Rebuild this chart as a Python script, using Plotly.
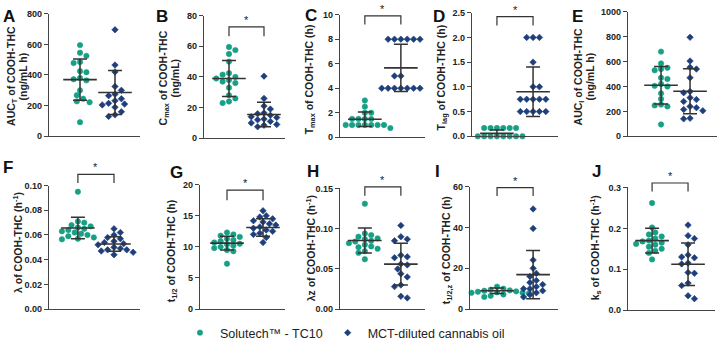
import numpy as np
import plotly.graph_objects as go

# ---------------- data ----------------
groups = ["Solutech™ - TC10", "MCT-diluted cannabis oil"]

A_green = [595, 545, 525, 485, 478, 425, 418, 380, 372, 365, 300, 268, 245, 228, 222, 92]
A_blue = [695, 465, 420, 325, 300, 275, 265, 245, 232, 215, 210, 205, 190, 160, 140, 130]
A_mean = [370, 286]
A_sd = [135, 143]

B_green = [59.5, 57.5, 55, 50, 42.5, 41.5, 40, 39, 38, 37, 36, 33, 28, 26, 24, 23]
B_blue = [40.5, 26, 21, 19, 16.5, 16, 15, 14, 13.5, 12.5, 12, 11, 10, 9, 8.5, 7.5]
B_mean = [39, 15.5]
B_sd = [11.8, 8]

C_green = [3, 2.5, 2, 2, 1.5, 1.5, 1.5, 1.5, 1, 1, 1, 1, 1, 1, 1, 0.75]
C_blue = [8, 8, 8, 8, 8, 8, 5, 5, 4, 4, 4, 4, 4, 4, 4, 4]
C_mean = [1.47, 5.66]
C_sd = [0.6, 1.92]

D_green = [0.167, 0.167, 0.167, 0.167, 0.167, 0.167, 0, 0, 0, 0, 0, 0, 0, 0, 0, 0]
D_blue = [2, 2, 2, 1.5, 1, 1, 0.75, 0.75, 0.75, 0.75, 0.75, 0.5, 0.5, 0.5, 0.5, 0.5]
D_mean = [0.06, 0.9]
D_sd = [0.07, 0.5]

E_green = [680, 585, 550, 540, 530, 470, 460, 420, 405, 400, 345, 300, 255, 248, 240, 95]
E_blue = [795, 605, 555, 540, 470, 360, 350, 310, 295, 280, 240, 230, 215, 205, 145, 140]
E_mean = [410, 362]
E_sd = [150, 180]

F_green = [0.095, 0.071, 0.07, 0.068, 0.067, 0.066, 0.065, 0.064, 0.063, 0.062, 0.061, 0.06, 0.059, 0.058, 0.057, 0.0565]
F_blue = [0.065, 0.062, 0.060, 0.058, 0.057, 0.055, 0.054, 0.053, 0.052, 0.050, 0.049, 0.048, 0.048, 0.047, 0.046, 0.044]
F_mean = [0.0657, 0.0527]
F_sd = [0.0087, 0.0058]

G_green = [12.3, 12.0, 11.8, 11.6, 11.3, 11.1, 10.9, 10.7, 10.5, 10.4, 10.2, 10.0, 9.8, 9.5, 9.3, 7.3]
G_blue = [15.8, 15.0, 14.8, 14.5, 14.2, 14.0, 13.7, 13.5, 13.2, 13.0, 12.7, 12.5, 12.2, 12.0, 11.5, 10.7]
G_mean = [10.6, 13.1]
G_sd = [1.1, 1.4]

H_green = [0.131, 0.094, 0.092, 0.09, 0.088, 0.087, 0.085, 0.084, 0.082, 0.08, 0.078, 0.077, 0.075, 0.072, 0.07, 0.062]
H_blue = [0.104, 0.090, 0.087, 0.085, 0.067, 0.065, 0.064, 0.056, 0.055, 0.050, 0.044, 0.040, 0.030, 0.028, 0.016, 0.014]
H_mean = [0.0854, 0.0559]
H_sd = [0.0155, 0.026]

I_green = [11, 10, 9.5, 9.2, 9, 8.7, 8.5, 8.2, 8, 8, 7.8, 7.5, 7.2, 7, 6.5, 6]
I_blue = [49, 39.5, 24, 20, 17.5, 16, 14, 13, 12, 11, 10, 10, 9, 8, 7, 6]
I_mean = [9.0, 16.9]
I_sd = [1.4, 11.8]

J_green = [0.262, 0.202, 0.19, 0.185, 0.18, 0.175, 0.17, 0.168, 0.165, 0.162, 0.16, 0.155, 0.15, 0.145, 0.14, 0.124]
J_blue = [0.208, 0.182, 0.175, 0.16, 0.135, 0.13, 0.128, 0.115, 0.113, 0.092, 0.09, 0.066, 0.06, 0.035, 0.028]
J_mean = [0.170, 0.112]
J_sd = [0.03, 0.052]

# significance brackets: (bar level, tip level)
brackets = {
    "B": (72.6, 66.5), "C": (9.9, 9.2), "D": (2.42, 2.24),
    "F": (0.109, 0.102), "G": (19.1, 17.5), "H": (0.152, 0.141),
    "I": (59.5, 55.3), "J": (0.311, 0.290),
}

titles = {
    "A": ["AUC<sub>T</sub> of COOH-THC", "(ng/mL h)"],
    "B": ["C<sub>max</sub> of COOH-THC", "(ng/mL)"],
    "C": ["T<sub>max</sub> of COOH-THC (h)"],
    "D": ["T<sub>lag</sub> of COOH-THC (h)"],
    "E": ["AUC<sub>I</sub> of COOH-THC", "(ng/mL h)"],
    "F": ["λ of COOH-THC (h<sup>-1</sup>)"],
    "G": ["t<sub>1/2</sub> of COOH-THC (h)"],
    "H": ["λz of COOH-THC (h<sup>-1</sup>)"],
    "I": ["t<sub>1/2,z</sub> of COOH-THC (h)"],
    "J": ["k<sub>s</sub> of COOH-THC (h<sup>-1</sup>)"],
}

data = {
    "A": (A_green, A_blue, A_mean, A_sd), "B": (B_green, B_blue, B_mean, B_sd),
    "C": (C_green, C_blue, C_mean, C_sd), "D": (D_green, D_blue, D_mean, D_sd),
    "E": (E_green, E_blue, E_mean, E_sd), "F": (F_green, F_blue, F_mean, F_sd),
    "G": (G_green, G_blue, G_mean, G_sd), "H": (H_green, H_blue, H_mean, H_sd),
    "I": (I_green, I_blue, I_mean, I_sd), "J": (J_green, J_blue, J_mean, J_sd),
}

# ---------------- layout config ----------------
W, H = 720, 348
# plot-area boxes in px: (x_left, x_right, y_top, y_bottom)
boxes = {
    "A": (49, 140, 9, 136), "B": (204, 285, 11, 138), "C": (340, 425, 10, 137),
    "D": (472, 558, 8, 136), "E": (628, 717, 7, 136),
    "F": (49, 140, 187, 315), "G": (200, 285, 186, 315), "H": (340, 425, 190, 315),
    "I": (470, 558, 188, 315), "J": (628, 715, 189, 316),
}
xranges = {
    "A": (-0.886, 1.714), "B": (-0.714, 1.6), "C": (-0.69, 1.67), "D": (-0.69, 1.69),
    "E": (-1.14, 1.93), "F": (-0.8, 1.72), "G": (-0.75, 1.61), "H": (-0.69, 1.67),
    "I": (-0.75, 1.69), "J": (-0.67, 1.75),
}
yaxes_cfg = {
    "A": (800, 200, "d"), "B": (80, 20, "d"), "C": (10, 2, "d"), "D": (2.5, 0.5, ".1f"),
    "E": (1000, 200, "d"), "F": (0.10, 0.02, ".2f"), "G": (20, 5, "d"),
    "H": (0.15, 0.05, ".2f"), "I": (60, 20, "d"), "J": (0.3, 0.1, ".1f"),
}
letters_pos = {
    "A": (9, 12), "B": (162, 12), "C": (311, 11), "D": (439, 12), "E": (577, 12),
    "F": (8, 168), "G": (176, 173), "H": (313, 172), "I": (438, 172), "J": (596, 172),
}
# axis-title line centres (px): (list of x per line, y centre)
title_pos = {
    "A": ([12.5, 23], 74), "B": ([164, 175], 76), "C": ([310], 77), "D": ([442], 75),
    "E": ([579, 590], 74),
    "F": ([17.5], 246), "G": ([172], 255), "H": ([310], 252), "I": ([447], 254),
    "J": ([596], 252),
}

GREEN = "#17a085"
BLUE = "#1f3f7c"
AX = "#444444"
FONT = "Liberation Sans, Arial, sans-serif"
DIAM = 5.4


def swarm(values, ppu_x, ppu_y, d):
    """Deterministic beeswarm offsets (in x data units)."""
    vals = np.asarray(values, float)
    order = np.argsort(-vals, kind="stable")
    placed = []
    offs = np.zeros(len(vals))
    step = d * 0.55
    flip = 1
    for i in order:
        y = vals[i] * ppu_y
        cands = [0.0]
        for k in range(1, 30):
            cands += [flip * k * step, -flip * k * step]
        for c in cands:
            if all((c - px) ** 2 + (y - py) ** 2 >= d ** 2 for px, py in placed):
                break
        if c != 0:
            flip = -flip
        placed.append((c, y))
        offs[i] = c / ppu_x
    return offs


fig = go.Figure()
layout = dict(
    width=W, height=H, margin=dict(l=0, r=0, t=0, b=0),
    paper_bgcolor="white", plot_bgcolor="white",
    font=dict(family=FONT, color="#222"),
    showlegend=True,
)
shapes, annotations = [], []

for idx, L in enumerate("ABCDEFGHIJ"):
    n = "" if idx == 0 else str(idx + 1)
    xl, xr_, yt, yb = boxes[L]
    x0, x1 = xranges[L]
    ymax, dtick, fmt = yaxes_cfg[L]
    ppu_x = (xr_ - xl) / (x1 - x0)
    ppu_y = (yb - yt) / ymax
    g, b, mean, sd = data[L]

    for gi, (vals, col, sym, size) in enumerate(
        [(g, GREEN, "circle", DIAM), (b, BLUE, "diamond", 5.0)]
    ):
        offs = swarm(vals, ppu_x, ppu_y, DIAM + 0.4)
        fig.add_trace(go.Scatter(
            x=gi + offs, y=vals, mode="markers", xaxis="x" + n, yaxis="y" + n,
            marker=dict(color=col, size=size, symbol=sym, line=dict(width=0.6, color=col)),
            name=groups[gi], showlegend=(idx == 0), cliponaxis=False,
            hoverinfo="y",
        ))
    fig.add_trace(go.Scatter(
        x=[0, 1], y=mean, mode="markers", xaxis="x" + n, yaxis="y" + n,
        marker=dict(symbol="line-ew", size=24, color="#333",
                    line=dict(width=1.6, color="#333")),
        error_y=dict(type="data", array=sd, visible=True, width=7,
                     thickness=1.5, color="#333"),
        showlegend=False, cliponaxis=False, hoverinfo="skip",
    ))

    layout["xaxis" + n] = dict(
        domain=[xl / W, xr_ / W], range=[x0, x1], anchor="y" + n,
        showline=True, linecolor=AX, linewidth=1.3, ticks="",
        showticklabels=False, showgrid=False, zeroline=False, fixedrange=True,
    )
    layout["yaxis" + n] = dict(
        domain=[1 - yb / H, 1 - yt / H], range=[0, ymax], anchor="x" + n,
        showline=True, linecolor=AX, linewidth=1.3, ticks="outside",
        ticklen=4, tickwidth=1.2, tickcolor=AX, dtick=dtick, tick0=0,
        tickformat=fmt, showgrid=False, zeroline=False,
        tickfont=dict(family=FONT, size=9, color="#222", weight="bold"),
        fixedrange=True,
    )

    txs, ty = title_pos[L]
    for line, tx in zip(titles[L], txs):
        annotations.append(dict(
            x=tx / W, y=1 - ty / H, xref="paper", yref="paper", text=line,
            textangle=-90, showarrow=False, xanchor="center", yanchor="middle",
            font=dict(family=FONT, size=10.5, color="#222", weight="bold"),
        ))

    if L in brackets:
        bar, tip = brackets[L]
        fx = lambda v: (v - x0) / (x1 - x0)
        fy = lambda v: v / ymax
        xr_ref, yr_ref = "x" + n + " domain", "y" + n + " domain"
        shapes.append(dict(
            type="path", xref=xr_ref, yref=yr_ref,
            path=f"M {fx(0)},{fy(tip)} L {fx(0)},{fy(bar)} L {fx(1)},{fy(bar)} L {fx(1)},{fy(tip)}",
            line=dict(color="#333", width=1.2),
        ))
        annotations.append(dict(
            x=fx(0.5), y=fy(bar), xref=xr_ref, yref=yr_ref, text="*", showarrow=False,
            xanchor="center", yanchor="bottom", yshift=-1,
            font=dict(family=FONT, size=11, color="#222"),
        ))

    lx, ly = letters_pos[L]
    annotations.append(dict(
        x=lx / W, y=1 - ly / H, xref="paper", yref="paper", text=f"<b>{L}</b>",
        showarrow=False, xanchor="center", yanchor="middle",
        font=dict(family=FONT, size=17, color="#111"),
    ))

layout["shapes"] = shapes
layout["annotations"] = annotations
layout["legend"] = dict(
    orientation="h", x=0.25, y=1 - 340 / H, xanchor="left", yanchor="middle",
    font=dict(family=FONT, size=12.5, color="#222"), bgcolor="rgba(0,0,0,0)",
    itemsizing="trace",
)
fig.update_layout(**layout)
fig.write_html("out.html")
